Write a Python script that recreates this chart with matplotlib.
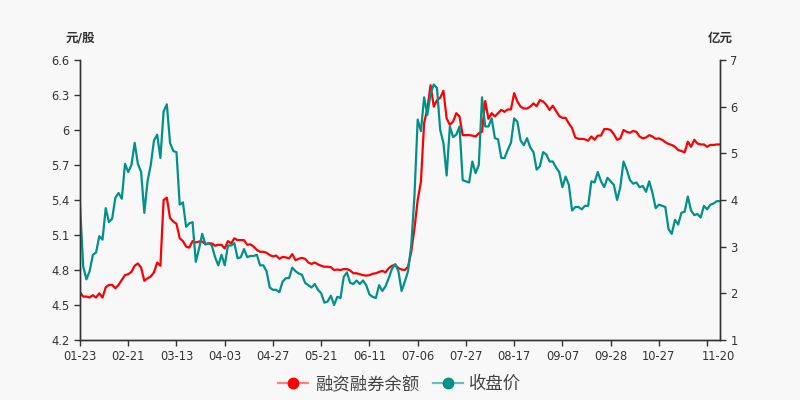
import matplotlib

matplotlib.use("Agg")
import matplotlib.pyplot as plt
from matplotlib.lines import Line2D

plt.rcParams["font.family"] = ["DejaVu Sans", "Noto Sans CJK SC"]
plt.rcParams["axes.unicode_minus"] = False

# x-axis tick labels (every 15 trading days, last label at the final day)
tick_labels = ["01-23", "02-21", "03-13", "04-03", "04-27", "05-21", "06-11",
               "07-06", "07-27", "08-17", "09-07", "09-28", "10-27"]
last_label = "11-20"

# 收盘价 (元/股), left axis
close_price = [
    5.36, 4.83, 4.72, 4.79, 4.93, 4.95, 5.09, 5.06, 5.33, 5.21,
    5.24, 5.42, 5.46, 5.41, 5.71, 5.64, 5.70, 5.89, 5.71, 5.64,
    5.29, 5.56, 5.70, 5.91, 5.96, 5.76, 6.16, 6.22, 5.89, 5.82,
    5.81, 5.36, 5.38, 5.17, 5.20, 5.21, 4.87, 4.98, 5.11, 5.02,
    5.03, 5.01, 4.91, 4.84, 4.93, 4.84, 5.01, 5.01, 5.03, 4.90,
    4.91, 4.98, 4.91, 4.92, 4.92, 4.93, 4.84, 4.84, 4.79, 4.65,
    4.63, 4.63, 4.61, 4.70, 4.73, 4.73, 4.82, 4.79, 4.77, 4.76,
    4.69, 4.67, 4.65, 4.68, 4.63, 4.60, 4.52, 4.53, 4.58, 4.50,
    4.57, 4.56, 4.74, 4.78, 4.69, 4.68, 4.71, 4.68, 4.71, 4.67,
    4.59, 4.57, 4.56, 4.67, 4.62, 4.66, 4.73, 4.81, 4.85, 4.79,
    4.62, 4.70, 4.79, 5.01, 5.44, 6.09, 5.99, 6.28, 6.13, 6.31,
    6.39, 6.36, 6.00, 5.89, 5.61, 6.03, 5.94, 5.96, 6.03, 5.57,
    5.56, 5.55, 5.73, 5.63, 5.70, 6.28, 6.03, 6.03, 6.10, 5.93,
    5.92, 5.76, 5.76, 5.83, 5.89, 6.10, 6.07, 5.91, 5.87, 5.93,
    5.85, 5.81, 5.66, 5.69, 5.81, 5.79, 5.73, 5.73, 5.68, 5.64,
    5.51, 5.60, 5.53, 5.31, 5.34, 5.34, 5.32, 5.35, 5.35, 5.56,
    5.55, 5.64, 5.56, 5.51, 5.59, 5.56, 5.53, 5.40, 5.51, 5.73,
    5.66, 5.57, 5.54, 5.55, 5.51, 5.52, 5.47, 5.56, 5.46, 5.33,
    5.36, 5.35, 5.34, 5.15, 5.11, 5.23, 5.19, 5.29, 5.30, 5.43,
    5.31, 5.27, 5.28, 5.25, 5.35, 5.32, 5.36, 5.37, 5.39, 5.39,
]

# 融资融券余额 (亿元), right axis
margin_balance = [
    2.02, 1.93, 1.93, 1.91, 1.96, 1.91, 2.00, 1.91, 2.13, 2.18,
    2.18, 2.11, 2.18, 2.29, 2.39, 2.41, 2.46, 2.59, 2.64, 2.55,
    2.27, 2.32, 2.36, 2.45, 2.66, 2.59, 4.00, 4.05, 3.61, 3.54,
    3.49, 3.18, 3.12, 3.00, 2.98, 3.12, 3.09, 3.11, 3.11, 3.05,
    3.07, 3.07, 3.02, 3.04, 3.04, 2.96, 3.12, 3.07, 3.18, 3.14,
    3.14, 3.14, 3.04, 3.05, 3.00, 2.93, 2.89, 2.89, 2.87, 2.82,
    2.79, 2.81, 2.74, 2.78, 2.77, 2.75, 2.84, 2.71, 2.74, 2.76,
    2.74, 2.66, 2.63, 2.66, 2.62, 2.59, 2.57, 2.57, 2.56, 2.50,
    2.51, 2.50, 2.52, 2.52, 2.49, 2.43, 2.43, 2.41, 2.39, 2.38,
    2.39, 2.42, 2.43, 2.46, 2.48, 2.45, 2.54, 2.59, 2.61, 2.54,
    2.51, 2.50, 2.57, 2.89, 3.39, 4.00, 4.39, 5.65, 5.95, 6.46,
    6.00, 6.14, 6.19, 6.34, 5.75, 5.61, 5.68, 5.86, 5.79, 5.39,
    5.39, 5.39, 5.38, 5.36, 5.43, 5.46, 6.12, 5.74, 5.86, 5.79,
    5.86, 5.93, 5.89, 5.94, 5.94, 6.29, 6.11, 6.00, 5.96, 5.96,
    6.00, 6.07, 6.01, 6.14, 6.11, 6.04, 5.93, 6.02, 5.91, 5.80,
    5.76, 5.76, 5.64, 5.54, 5.34, 5.31, 5.31, 5.30, 5.27, 5.36,
    5.29, 5.38, 5.38, 5.52, 5.52, 5.50, 5.41, 5.29, 5.32, 5.50,
    5.46, 5.44, 5.48, 5.46, 5.36, 5.32, 5.34, 5.39, 5.36, 5.31,
    5.32, 5.29, 5.24, 5.20, 5.18, 5.14, 5.07, 5.05, 5.02, 5.25,
    5.14, 5.29, 5.21, 5.19, 5.19, 5.14, 5.18, 5.18, 5.19, 5.19,
]

left_ticks = [4.2, 4.5, 4.8, 5.1, 5.4, 5.7, 6.0, 6.3, 6.6]
left_tick_text = ["4.2", "4.5", "4.8", "5.1", "5.4", "5.7", "6", "6.3", "6.6"]
right_ticks = [1, 2, 3, 4, 5, 6, 7]

RED = "#ff0000"
TEAL = "#00918b"
BG = "#f8f8f8"
AXIS = "#333333"

x = list(range(len(close_price)))

fig = plt.figure(figsize=(8, 4), dpi=100, facecolor=BG)
ax_r = fig.add_axes([0.1, 0.15, 0.8, 0.7])
ax_r.set_facecolor(BG)
ax_l = ax_r.twinx()

# red on the right axis, teal on the left axis (teal drawn on top)
ax_r.plot(x, margin_balance, color=RED, lw=1.6)
ax_l.plot(x, close_price, color=TEAL, lw=1.6)

ax_r.yaxis.tick_right()
ax_l.yaxis.tick_left()
ax_r.set_ylim(1, 7)
ax_r.set_yticks(right_ticks)
ax_l.set_ylim(4.2, 6.6)
ax_l.set_yticks(left_ticks)
ax_l.set_yticklabels(left_tick_text)
ax_r.set_xlim(0, len(x) - 1)

tick_pos = list(range(0, len(x), 15))
ax_r.set_xticks(tick_pos)
ax_r.set_xticklabels(tick_labels + [""])
ax_r.text(len(x) - 1.5, -0.037, last_label, transform=ax_r.get_xaxis_transform(),
          ha="center", va="top", fontsize=8.3, color=AXIS)

for a in (ax_r, ax_l):
    a.spines["top"].set_visible(False)
    for s in ("left", "right", "bottom"):
        a.spines[s].set_color(AXIS)
        a.spines[s].set_linewidth(1)
    a.tick_params(colors=AXIS, labelcolor=AXIS, labelsize=8.3, length=4, width=1)

ax_r.text(0, 1.079, "元/股", transform=ax_r.transAxes, ha="center", va="center",
          fontsize=9, color=AXIS, fontweight="bold")
ax_r.text(1, 1.079, "亿元", transform=ax_r.transAxes, ha="center", va="center",
          fontsize=9, color=AXIS, fontweight="bold")

handles = [
    Line2D([], [], color="#ff8080", lw=1.6, marker="o", markersize=7.5,
           markerfacecolor=RED, markeredgecolor=RED),
    Line2D([], [], color="#66bdb9", lw=1.6, marker="o", markersize=7.5,
           markerfacecolor=TEAL, markeredgecolor=TEAL),
]
fig.legend(handles, ["融资融券余额", "收盘价"], loc="center", bbox_to_anchor=(0.5, 0.04),
           ncol=2, frameon=False, fontsize=12.5, handlelength=1.7, columnspacing=0.8,
           handletextpad=0.4, labelcolor="#444444")

fig.savefig("out.png", dpi=100, facecolor=BG)
